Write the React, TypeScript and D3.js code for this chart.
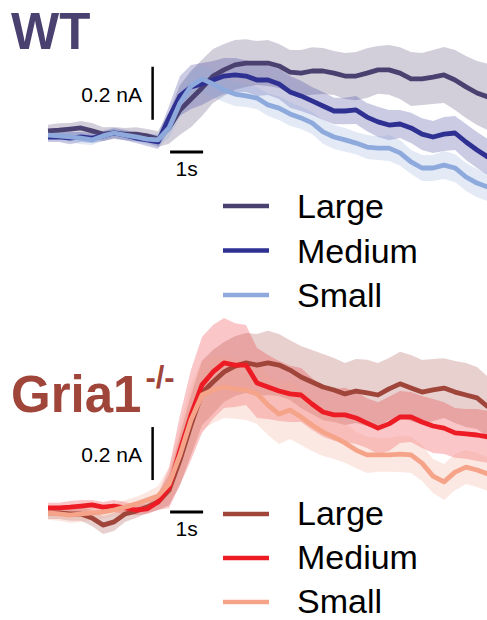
import * as d3 from 'd3';

const W = 487;
const H = 620;
const FONT = '"Liberation Sans", Arial, sans-serif';

// traces sampled every 1/3 s
const TIME_STEP = 1 / 3;
const N_SAMPLES = 41;
const TIME = d3.range(N_SAMPLES).map((i) => i * TIME_STEP);

const SIZES = ['Large', 'Medium', 'Small'];

// WT mean current (pA) and SEM (pA)
const WT_LARGE = [8, 11, 15, 19, 8, -4, 0, -4, -4, -11, -23, 19, 87, 128, 170, 215, 238, 257, 264, 264, 264, 253, 230, 226, 234, 234, 226, 215, 215, 226, 238, 238, 226, 204, 204, 211, 219, 200, 174, 151, 136];
const WT_MEDIUM = [-15, -15, -19, -15, -19, -11, 0, -8, -19, -26, -34, 57, 140, 174, 185, 200, 215, 219, 215, 200, 200, 185, 155, 140, 121, 102, 83, 83, 87, 60, 42, 30, 34, 19, -4, -15, -4, 0, -34, -64, -91];
const WT_SMALL = [-8, -11, -15, -19, -26, -11, 0, -8, -15, -23, -26, 19, 113, 177, 204, 185, 162, 147, 140, 132, 106, 94, 72, 57, 38, 4, -15, -26, -38, -53, -57, -57, -75, -109, -132, -132, -121, -132, -166, -189, -204];
const WT_LARGE_SEM = [23, 26, 23, 26, 30, 26, 23, 23, 26, 26, 30, 60, 94, 106, 106, 102, 98, 94, 90, 83, 87, 83, 83, 87, 90, 87, 83, 87, 91, 94, 90, 94, 98, 102, 98, 102, 106, 113, 117, 121, 125];
const WT_MEDIUM_SEM = [19, 19, 23, 19, 19, 19, 19, 19, 19, 23, 26, 45, 75, 83, 79, 72, 68, 64, 60, 60, 57, 57, 60, 57, 53, 53, 50, 50, 53, 53, 57, 57, 53, 57, 60, 60, 64, 64, 68, 68, 68];
const WT_SMALL_SEM = [19, 19, 19, 23, 19, 19, 19, 19, 19, 19, 23, 38, 53, 57, 53, 49, 45, 45, 42, 42, 42, 45, 45, 42, 42, 45, 45, 45, 42, 45, 45, 49, 49, 45, 49, 49, 53, 53, 53, 53, 53];

// Gria1-/- mean current (pA) and SEM (pA)
const KO_LARGE = [-11, -11, -15, -15, -30, -57, -45, -15, -4, 11, 30, 75, 189, 321, 442, 483, 521, 543, 555, 547, 555, 547, 528, 502, 483, 464, 453, 438, 449, 442, 434, 457, 476, 460, 445, 453, 460, 445, 434, 423, 389];
const KO_MEDIUM = [8, 8, 11, 15, 19, 11, 15, 8, 0, 4, 30, 83, 226, 359, 472, 521, 555, 547, 547, 479, 464, 449, 438, 434, 400, 370, 359, 359, 347, 328, 309, 325, 351, 351, 332, 317, 309, 291, 287, 283, 276];
const KO_SMALL = [-11, -15, -19, -15, -11, -8, 0, 11, 23, 38, 53, 98, 208, 340, 434, 453, 464, 457, 453, 438, 396, 362, 377, 351, 321, 294, 275, 253, 226, 208, 208, 208, 211, 208, 177, 128, 106, 143, 162, 151, 136];
const KO_LARGE_SEM = [23, 23, 26, 26, 30, 34, 34, 30, 26, 23, 30, 57, 94, 113, 121, 121, 113, 113, 113, 117, 121, 117, 113, 117, 121, 125, 121, 117, 121, 125, 121, 117, 121, 125, 121, 117, 113, 117, 121, 117, 113];
const KO_MEDIUM_SEM = [19, 19, 23, 23, 19, 19, 23, 23, 19, 19, 30, 75, 132, 170, 181, 177, 170, 158, 151, 132, 121, 113, 106, 102, 98, 94, 98, 102, 98, 94, 98, 102, 98, 94, 98, 102, 98, 94, 94, 98, 98];
const KO_SMALL_SEM = [26, 26, 30, 30, 26, 23, 23, 26, 26, 30, 38, 64, 106, 132, 132, 125, 117, 113, 113, 113, 113, 113, 109, 106, 98, 90, 83, 75, 68, 68, 64, 64, 68, 68, 68, 64, 68, 68, 64, 64, 64];

const WT_COLORS = ['#4b4170', '#2e3192', '#8eaadc'];
const KO_COLORS = ['#a0453a', '#ed1c24', '#f5a48a'];

const PANELS = [
  {
    key: 'wt', title: 'WT', sup: '', titleColor: '#4b4170', titleY: 49,
    baseY: 133, colors: WT_COLORS,
    means: [WT_LARGE, WT_MEDIUM, WT_SMALL],
    sems: [WT_LARGE_SEM, WT_MEDIUM_SEM, WT_SMALL_SEM],
    vBarFrom: 50, hBarAt: -72, legendY: 206, legendGap: 44.5, textDy: 12,
  },
  {
    key: 'ko', title: 'Gria1', sup: '-/-', titleColor: '#a0453a', titleY: 412,
    baseY: 510, colors: KO_COLORS,
    means: [KO_LARGE, KO_MEDIUM, KO_SMALL],
    sems: [KO_LARGE_SEM, KO_MEDIUM_SEM, KO_SMALL_SEM],
    vBarFrom: 113, hBarAt: -8, legendY: 514, legendGap: 44, textDy: 10.5,
  },
];

const x = d3.scaleLinear().domain([0, (N_SAMPLES - 1) * TIME_STEP]).range([48, 488]);
const PX_PER_200PA = 53;

function Panel({ p }: { p: (typeof PANELS)[number] }) {
  const y = d3.scaleLinear().domain([0, 200]).range([p.baseY, p.baseY - PX_PER_200PA]);

  const line = d3.line<number>().x((_, i) => x(TIME[i])).y((d) => y(d));
  const area = (m: number[], s: number[]) =>
    d3.area<number>()
      .x((_, i) => x(TIME[i]))
      .y0((d, i) => y(d - s[i]))
      .y1((d, i) => y(d + s[i]))(m);

  // scale bars: 0.2 nA vertical, 1 s horizontal
  const vx = x(3.17);
  const vy1 = y(p.vBarFrom);
  const vy2 = y(p.vBarFrom + 200);
  const hy = y(p.hBarAt);
  const hx1 = x(3.7);
  const hx2 = x(4.7);

  return (
    <g>
      <text x={11} y={p.titleY} fill={p.titleColor} fontFamily={FONT} fontWeight="bold" fontSize={51}>
        {p.title}
        {p.sup && <tspan dx={4} dy={-24} fontSize={31}>{p.sup}</tspan>}
      </text>

      {p.means.map((m, k) => (
        <path key={'a' + k} d={area(m, p.sems[k]) ?? ''} fill={p.colors[k]} fillOpacity={0.25} stroke="none" />
      ))}
      {p.means.map((m, k) => (
        <path key={'l' + k} d={line(m) ?? ''} fill="none" stroke={p.colors[k]} strokeWidth={4.8} strokeLinejoin="round" />
      ))}

      <line x1={vx} x2={vx} y1={vy1} y2={vy2} stroke="#000" strokeWidth={2.5} />
      <text x={142} y={(vy1 + vy2) / 2 + 8.5} textAnchor="end" fontFamily={FONT} fontSize={21}>0.2 nA</text>
      <line x1={hx1} x2={hx2} y1={hy} y2={hy} stroke="#000" strokeWidth={3} />
      <text x={(hx1 + hx2) / 2} y={hy + 24} textAnchor="middle" fontFamily={FONT} fontSize={21}>1s</text>

      {SIZES.map((s, k) => {
        const ly = p.legendY + k * p.legendGap;
        return (
          <g key={s}>
            <line x1={223} x2={269} y1={ly} y2={ly} stroke={p.colors[k]} strokeWidth={4.5} />
            <text x={297} y={ly + p.textDy} fontFamily={FONT} fontSize={34} fill="#000">{s}</text>
          </g>
        );
      })}
    </g>
  );
}

export default function App() {
  return (
    <svg
      width={W}
      height={H}
      viewBox={`0 0 ${W} ${H}`}
      style={{ position: 'absolute', left: 0, top: 0, background: '#fff' }}
    >
      {PANELS.map((p) => (
        <Panel key={p.key} p={p} />
      ))}
    </svg>
  );
}
